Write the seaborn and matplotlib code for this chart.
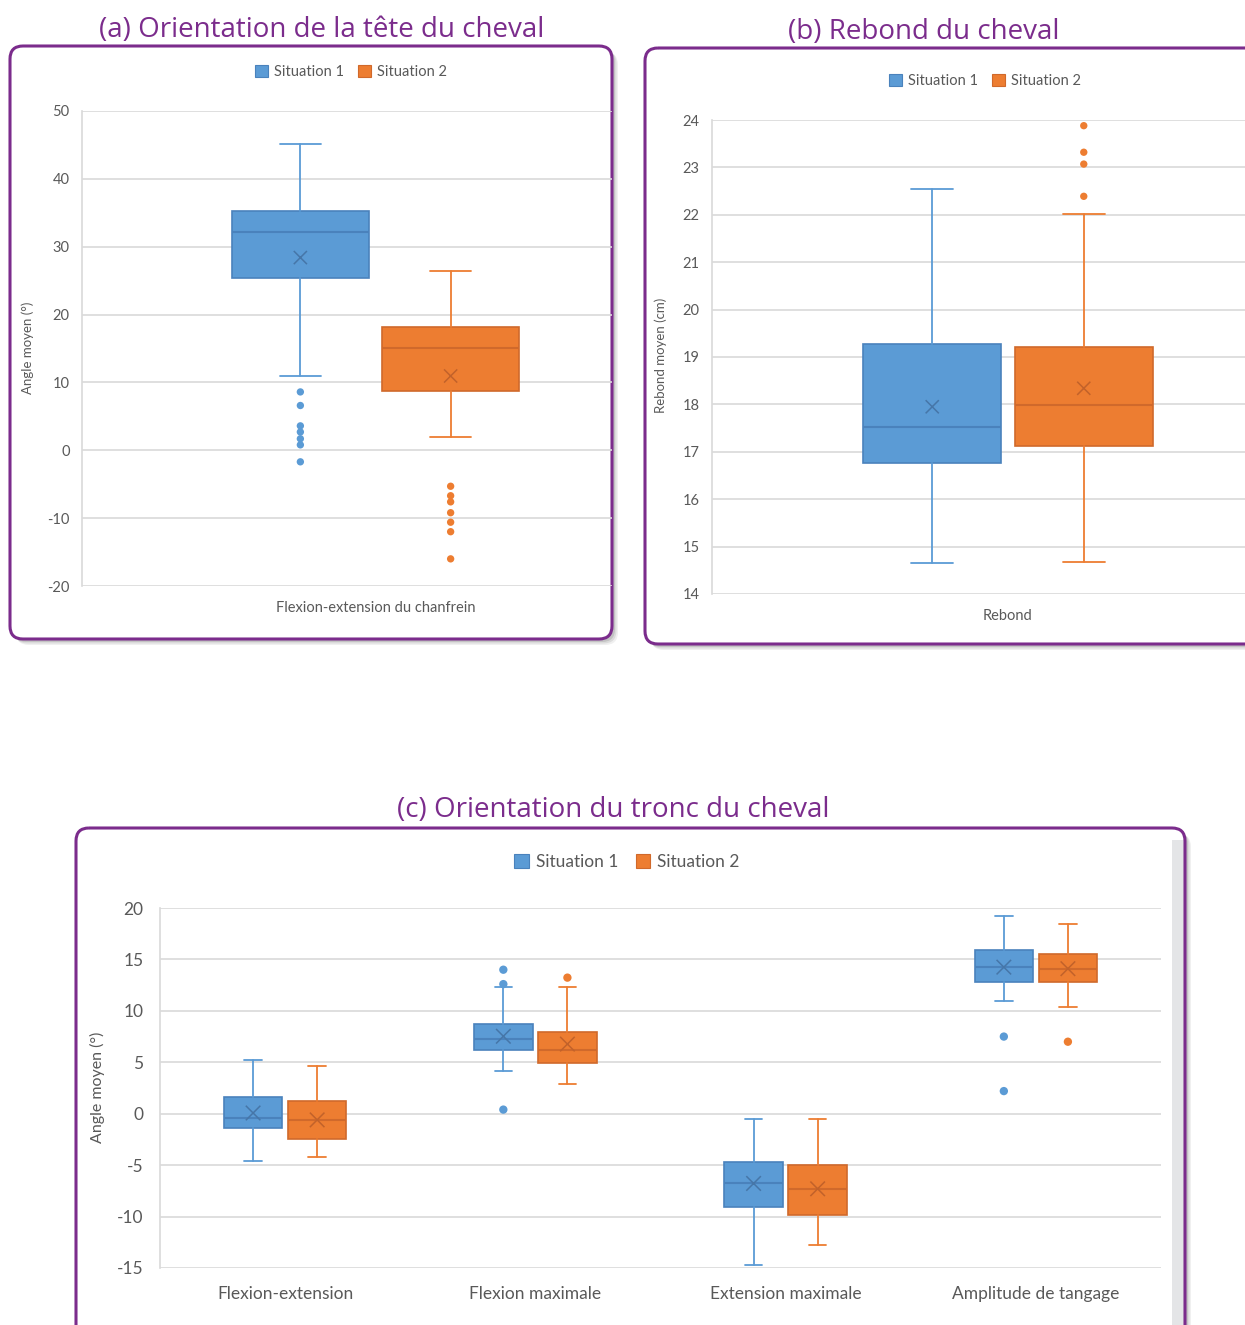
import numpy as np
import pandas as pd
import matplotlib
matplotlib.use("Agg")
import matplotlib.pyplot as plt
import seaborn as sns
from matplotlib.patches import FancyBboxPatch, Patch, Rectangle
from matplotlib.transforms import Affine2D

# ---------------- data ----------------
situations = ["Situation 1", "Situation 2"]

# (a) head orientation
cats_a = ["Flexion-extension du chanfrein"]
a_s1_whislo = [11.0]
a_s1_q1 = [25.4]
a_s1_med = [32.1]
a_s1_q3 = [35.3]
a_s1_whishi = [45.1]
a_s1_mean = [28.4]
a_s1_fliers = [[8.6, 6.6, 3.6, 2.7, 1.7, 0.8, -1.7]]
a_s2_whislo = [1.9]
a_s2_q1 = [8.8]
a_s2_med = [15.1]
a_s2_q3 = [18.1]
a_s2_whishi = [26.4]
a_s2_mean = [10.95]
a_s2_fliers = [[-5.3, -6.7, -7.6, -9.2, -10.6, -12.0, -16.0]]

# (b) rebound
cats_b = ["Rebond"]
b_s1_whislo = [14.66]
b_s1_q1 = [16.76]
b_s1_med = [17.52]
b_s1_q3 = [19.27]
b_s1_whishi = [22.55]
b_s1_mean = [17.95]
b_s1_fliers = [[]]
b_s2_whislo = [14.68]
b_s2_q1 = [17.13]
b_s2_med = [17.98]
b_s2_q3 = [19.22]
b_s2_whishi = [22.02]
b_s2_mean = [18.34]
b_s2_fliers = [[22.39, 23.07, 23.32, 23.88]]

# (c) trunk orientation
cats_c = ["Flexion-extension", "Flexion maximale", "Extension maximale", "Amplitude de tangage"]
c_s1_whislo = [-4.6, 4.13, -14.7, 10.96]
c_s1_q1 = [-1.37, 6.17, -9.07, 12.8]
c_s1_med = [-0.4, 7.3, -6.7, 14.25]
c_s1_q3 = [1.63, 8.7, -4.65, 15.95]
c_s1_whishi = [5.23, 12.33, -0.47, 19.2]
c_s1_mean = [0.07, 7.53, -6.78, 14.25]
c_s1_fliers = [[], [14.0, 12.6, 0.4], [], [7.5, 2.2]]
c_s2_whislo = [-4.2, 2.9, -12.8, 10.37]
c_s2_q1 = [-2.47, 4.93, -9.87, 12.8]
c_s2_med = [-0.57, 6.17, -7.3, 14.1]
c_s2_q3 = [1.2, 7.9, -4.98, 15.5]
c_s2_whishi = [4.6, 12.33, -0.47, 18.4]
c_s2_mean = [-0.6, 6.77, -7.3, 14.1]
c_s2_fliers = [[], [13.23], [], [7.0]]

# ---------------- style ----------------
W, H = 1245, 1325
sns.set_theme(style="white")
plt.rcParams["font.family"] = ["Lato", "DejaVu Sans"]
plt.rcParams["axes.unicode_minus"] = False

FILL = ["#5B9BD5", "#ED7D31"]
EDGE = ["#4A82BC", "#D0692B"]
MEAN = ["#4676A8", "#C2622A"]
GRID = "#D9D9D9"
TXT = "#595959"
PURPLE = "#7B2C8C"
TITLE_FONT = ["Open Sans", "DejaVu Sans"]

fig = plt.figure(figsize=(W / 100, H / 100), dpi=100)
fig.patch.set_facecolor("white")
px = Affine2D().scale(1, -1).translate(0, H)  # top-left pixel coordinates


def frame(x0, y0, x1, y1, band=False):
    w, h = x1 - x0, y1 - y0
    for off, a in [(6, 0.10), (4.5, 0.16), (3, 0.22)]:
        fig.add_artist(FancyBboxPatch((x0 + off, y0 + off), w, h,
                                      boxstyle="round,pad=0,rounding_size=13",
                                      transform=px, facecolor="#6e6e6e",
                                      edgecolor="none", alpha=a, zorder=-3))
    fig.add_artist(FancyBboxPatch((x0, y0), w, h,
                                  boxstyle="round,pad=0,rounding_size=13",
                                  transform=px, facecolor="white",
                                  edgecolor="none", zorder=-2))
    if band:
        fig.add_artist(Rectangle((x1 - 13, y0 + 12), 13, h - 12, transform=px,
                                 facecolor="#E4E5E7", edgecolor="none", zorder=-2))
    fig.add_artist(FancyBboxPatch((x0, y0), w, h,
                                  boxstyle="round,pad=0,rounding_size=13",
                                  transform=px, facecolor="none",
                                  edgecolor=PURPLE, linewidth=2.2, zorder=-1))


def make_axes(x0, y0, x1, y1):
    ax = fig.add_axes([x0 / W, 1 - y1 / H, (x1 - x0) / W, (y1 - y0) / H])
    ax.set_facecolor("none")
    return ax


def stats_list(whislo, q1, med, q3, whishi):
    return [dict(whislo=a, q1=b, med=c, q3=d, whishi=e, fliers=[])
            for a, b, c, d, e in zip(whislo, q1, med, q3, whishi)]


def draw_panel(ax, cats, series, ylim, step, fs_tick, fs_cat, pad_y, pad_x,
               msize, fsize):
    n = len(cats)
    base = np.arange(n)
    width, off = 0.234, 0.128
    rows = []
    mrows = []
    for k, (st, means, fliers) in enumerate(series):
        pos = base + (-off if k == 0 else off)
        ax.bxp(st, positions=pos, widths=width, capwidths=width * 0.3,
               patch_artist=True, showfliers=False, manage_ticks=False,
               boxprops=dict(facecolor=FILL[k], edgecolor=EDGE[k], linewidth=1.2),
               medianprops=dict(color=EDGE[k], linewidth=1.5),
               whiskerprops=dict(color=FILL[k], linewidth=1.3),
               capprops=dict(color=FILL[k], linewidth=1.3))
        for p, fl in zip(pos, fliers):
            for v in fl:
                rows.append((p, v, situations[k]))
        for p, m in zip(pos, means):
            mrows.append((p, m, situations[k]))
    fl_df = pd.DataFrame(rows, columns=["x", "y", "situation"])
    mean_df = pd.DataFrame(mrows, columns=["x", "y", "situation"])
    if len(fl_df):
        sns.scatterplot(data=fl_df, x="x", y="y", hue="situation",
                        hue_order=situations, palette=FILL, s=fsize,
                        edgecolor="none", legend=False, ax=ax, zorder=4)
    sns.scatterplot(data=mean_df, x="x", y="y", hue="situation",
                    hue_order=situations, palette=MEAN, marker="x", s=msize,
                    linewidth=1.1, legend=False, ax=ax, zorder=5)
    ax.set_ylim(*ylim)
    ax.set_yticks(np.arange(ylim[0], ylim[1] + step / 2, step))
    ax.set_xticks(base)
    ax.set_xticklabels(cats)
    ax.yaxis.grid(True, color=GRID, linewidth=1.2)
    ax.xaxis.grid(False)
    ax.set_axisbelow(True)
    for s in ["top", "right", "bottom"]:
        ax.spines[s].set_visible(False)
    ax.spines["left"].set_color(GRID)
    ax.spines["left"].set_linewidth(1.2)
    ax.tick_params(axis="y", length=0, pad=pad_y, labelsize=fs_tick, labelcolor=TXT)
    ax.tick_params(axis="x", length=0, pad=pad_x, labelsize=fs_cat, labelcolor=TXT)
    ax.set_xlabel("")
    ax.set_ylabel("")


def legend_at(cx, cy, fs):
    handles = [Patch(facecolor=FILL[k], edgecolor=EDGE[k], linewidth=0.8,
                     label=situations[k]) for k in range(2)]
    fig.legend(handles=handles, loc="center", ncol=2, frameon=False,
               bbox_to_anchor=(cx / W, 1 - cy / H), fontsize=fs,
               handlelength=0.85, handleheight=0.85, handletextpad=0.4,
               columnspacing=1.0, labelcolor=TXT)


def text_px(x, y, s, **kw):
    fig.text(x, y, s, transform=px, **kw)


# ---------------- panel (a) ----------------
frame(10, 46, 612, 639)
text_px(322, 30, "(a) Orientation de la tête du cheval", ha="center", va="center",
        fontsize=20, color=PURPLE, family=TITLE_FONT)
ax_a = make_axes(82, 111, 612, 586)
draw_panel(ax_a, cats_a,
           [(stats_list(a_s1_whislo, a_s1_q1, a_s1_med, a_s1_q3, a_s1_whishi), a_s1_mean, a_s1_fliers),
            (stats_list(a_s2_whislo, a_s2_q1, a_s2_med, a_s2_q3, a_s2_whishi), a_s2_mean, a_s2_fliers)],
           (-20, 50), 10, 10.5, 10.5, 9, 11, 90, 28)
ax_a.set_xlim(-0.5, (612 - 375.5) / 587)
legend_at(351, 72, 10.5)
text_px(28, 348, "Angle moyen (°)", rotation=90, ha="center", va="center",
        fontsize=9.5, color=TXT)

# ---------------- panel (b) ----------------
frame(645, 48, 1275, 644)
text_px(924, 32, "(b) Rebond du cheval", ha="center", va="center",
        fontsize=20, color=PURPLE, family=TITLE_FONT)
ax_b = make_axes(712, 120, 1245, 594)
draw_panel(ax_b, cats_b,
           [(stats_list(b_s1_whislo, b_s1_q1, b_s1_med, b_s1_q3, b_s1_whishi), b_s1_mean, b_s1_fliers),
            (stats_list(b_s2_whislo, b_s2_q1, b_s2_med, b_s2_q3, b_s2_whishi), b_s2_mean, b_s2_fliers)],
           (14, 24), 1, 10.5, 10.5, 9, 11, 90, 28)
ax_b.set_xlim(-0.5, (1245 - 1008) / 592)
legend_at(985, 81, 10.5)
text_px(661, 355, "Rebond moyen (cm)", rotation=90, ha="center", va="center",
        fontsize=9.5, color=TXT)

# ---------------- panel (c) ----------------
frame(76, 828, 1185, 1345, band=True)
text_px(613, 810, "(c) Orientation du tronc du cheval", ha="center", va="center",
        fontsize=20, color=PURPLE, family=TITLE_FONT)
ax_c = make_axes(160, 908, 1161, 1268)
draw_panel(ax_c, cats_c,
           [(stats_list(c_s1_whislo, c_s1_q1, c_s1_med, c_s1_q3, c_s1_whishi), c_s1_mean, c_s1_fliers),
            (stats_list(c_s2_whislo, c_s2_q1, c_s2_med, c_s2_q3, c_s2_whishi), c_s2_mean, c_s2_fliers)],
           (-15, 20), 5, 12.5, 12.5, 12, 13, 110, 36)
ax_c.set_xlim(-0.5, 3.5)
legend_at(627, 862, 12.5)
text_px(97, 1087, "Angle moyen (°)", rotation=90, ha="center", va="center",
        fontsize=11.5, color=TXT)

fig.savefig("out.png", dpi=100, facecolor="white")
